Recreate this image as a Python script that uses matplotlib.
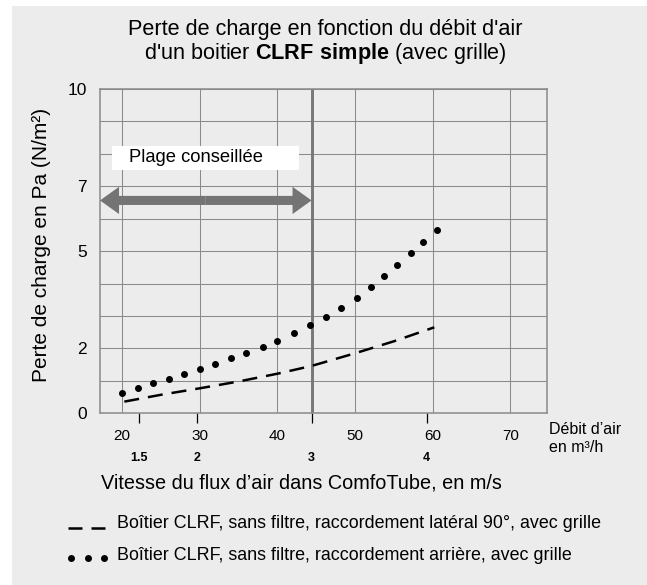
import matplotlib
matplotlib.use("Agg")
import matplotlib.pyplot as plt
import matplotlib.patches as mpatches
from matplotlib.lines import Line2D
from matplotlib.ticker import FixedLocator

# Donnees (debit en m3/h, perte de charge en Pa)
debit_arriere = [20.0, 22.0, 24.0, 26.0, 28.0, 30.0, 32.0, 34.0, 36.0, 38.1, 40.0,
                 42.1, 44.2, 46.2, 48.2, 50.2, 52.0, 53.7, 55.4, 57.2, 58.8, 60.5]
perte_arriere = [0.62, 0.77, 0.92, 1.06, 1.22, 1.37, 1.53, 1.69, 1.86, 2.03, 2.24,
                 2.46, 2.71, 2.97, 3.25, 3.56, 3.88, 4.22, 4.57, 4.93, 5.29, 5.64]

debit_lateral = [20.3, 25.0, 30.0, 35.0, 40.0, 44.4, 50.0, 55.0, 60.2]
perte_lateral = [0.36, 0.57, 0.77, 0.98, 1.22, 1.46, 1.85, 2.22, 2.65]

debit_ticks = [20, 30, 40, 50, 60, 70]
perte_ticks = [0, 2, 5, 7, 10]
vitesses = [1.5, 2, 3, 4]          # m/s dans le ComfoTube
m3h_par_ms = 14.8                  # debit (m3/h) pour 1 m/s
vitesse_max = 3                    # limite de la plage conseillee

label_lateral = "Boîtier CLRF, sans filtre, raccordement latéral 90°, avec grille"
label_arriere = "Boîtier CLRF, sans filtre, raccordement arrière, avec grille"

plt.rcParams['font.family'] = ['Liberation Sans', 'DejaVu Sans']
plt.rcParams['mathtext.fontset'] = 'custom'
plt.rcParams['mathtext.rm'] = 'Liberation Sans'
plt.rcParams['mathtext.bf'] = 'Liberation Sans:bold'

W, H = 647, 585
fig = plt.figure(figsize=(W / 100, H / 100), dpi=100, facecolor='white')
# fond gris (petite marge blanche en haut et a gauche)
fig.patches.append(mpatches.Rectangle((12 / W, 0), 1, 1 - 6 / H, transform=fig.transFigure,
                                      facecolor='#ececec', edgecolor='none', zorder=-5))

ax = fig.add_axes([100 / W, 1 - 413.3 / H, 447 / W, 324.5 / H], zorder=2)
ax.set_facecolor('#ececec')
ax.set_xlim(17.17, 74.7)
ax.set_ylim(0, 10)

grille = '#8a8a8a'
for s in ax.spines.values():
    s.set_color(grille)
    s.set_linewidth(1.1)

# axe des y : grille tous les 1 Pa, etiquettes seulement sur certaines
ax.set_yticks(perte_ticks)
ax.set_yticklabels([str(v) for v in perte_ticks])
ax.yaxis.set_minor_locator(FixedLocator([v for v in range(11) if v not in perte_ticks]))
ax.tick_params(axis='y', which='both', length=0, pad=9.5, labelsize=12.5)

# axe des x : debit (majeur) et vitesse (mineur, en gras)
ax.set_xticks(debit_ticks)
ax.set_xticklabels([str(v) for v in debit_ticks])
pos_vitesse = [v * m3h_par_ms for v in vitesses]
ax.set_xticks(pos_vitesse, minor=True)
ax.set_xticklabels([str(v) for v in vitesses], minor=True, fontweight='bold')
ax.tick_params(axis='x', which='major', length=0, pad=11, labelsize=11)
ax.tick_params(axis='x', which='minor', length=7, width=0.9, color='black',
               pad=21, labelsize=9)

ax.grid(axis='x', which='major', color=grille, linewidth=0.75)
ax.grid(axis='y', which='both', color=grille, linewidth=0.75)
ax.set_axisbelow(True)

# limite 3 m/s
ax.axvline(vitesse_max * m3h_par_ms, color='#777777', linewidth=2.1, zorder=2)

# fleche "plage conseillee"
x0, x1 = ax.get_xlim()[0], vitesse_max * m3h_par_ms
xm = (x0 + x1) / 2
for xe in (x0, x1):
    ax.add_patch(mpatches.FancyArrow(xm, 6.56, xe - xm, 0, width=0.28, head_width=0.84,
                                     head_length=2.45, length_includes_head=True,
                                     color='#747474', linewidth=0, zorder=3))
ax.add_patch(mpatches.Rectangle((18.7, 7.51), 24.1, 0.74, facecolor='white',
                                edgecolor='none', zorder=3))
ax.text(20.9, 7.88, "Plage conseillée", fontsize=13.2, va='center', ha='left', zorder=4)

# courbes
ax.plot(debit_lateral, perte_lateral, color='black', linewidth=1.8,
        dashes=(6, 3.6), zorder=4)
ax.plot(debit_arriere, perte_arriere, linestyle='none', marker='o', markersize=4,
        color='black', zorder=4)

# legende dessinee a la main (coordonnees en pixels de la figure)
def px(x, y):
    return x / W, 1 - y / H

fig.add_artist(Line2D([68 / W, 105 / W], [1 - 528 / H] * 2, color='black',
                      linewidth=1.8, dashes=(5.6, 3.6), solid_capstyle='butt'))
fig.add_artist(Line2D([71 / W, 87.5 / W, 104 / W], [1 - 558 / H] * 3, linestyle='none',
                      marker='o', markersize=4, color='black'))
fig.text(*px(117, 523), label_lateral, fontsize=12.9, ha='left', va='center')
fig.text(*px(117, 555), label_arriere, fontsize=12.9, ha='left', va='center')

# textes
fig.text(*px(325, 29.5), "Perte de charge en fonction du débit d'air",
         fontsize=15.6, ha='center', va='center')
fig.text(*px(325, 54), r"d'un boitier $\mathbf{CLRF\ simple}$ (avec grille)",
         fontsize=15.6, ha='center', va='center')
fig.text(*px(42, 245), "Perte de charge en Pa (N/m²)", fontsize=15,
         rotation=90, ha='center', va='center')
fig.text(*px(549, 438), "Débit d’air\nen m³/h", fontsize=11.5,
         ha='left', va='center', linespacing=1.25)
fig.text(*px(101, 483), "Vitesse du flux d’air dans ComfoTube, en m/s",
         fontsize=14.3, ha='left', va='center')

plt.savefig("out.png", dpi=100, facecolor=fig.get_facecolor())
